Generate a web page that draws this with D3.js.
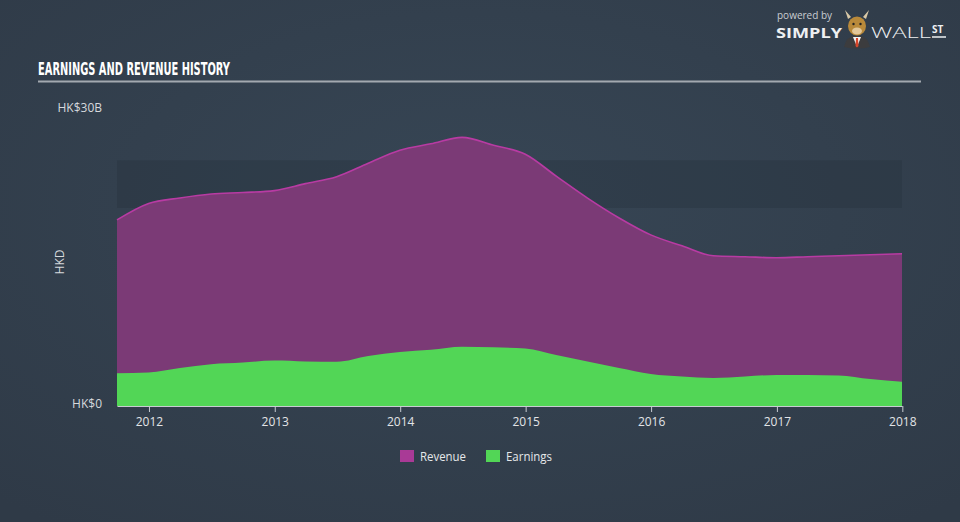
<!DOCTYPE html>
<html>
<head>
<meta charset="utf-8">
<script src="https://cdn.jsdelivr.net/npm/d3@7"></script>
<style>
  html, body { margin: 0; padding: 0; background: #333f4d; }
  svg { display: block; }
</style>
</head>
<body>
<svg id="chart" width="960" height="522"></svg>
<script>
// ---- data ----
const dates = [
  "2011-09-30","2011-12-31","2012-03-31","2012-06-30","2012-09-30","2012-12-31",
  "2013-03-31","2013-06-30","2013-09-30","2013-12-31","2014-03-31","2014-06-30",
  "2014-09-30","2014-12-31","2015-03-31","2015-06-30","2015-09-30","2015-12-31",
  "2016-03-31","2016-06-30","2016-09-30","2016-12-31","2017-03-31","2017-06-30",
  "2017-09-30","2017-12-31"
];
const revenue = [18.7, 20.35, 20.9, 21.3, 21.45, 21.65, 22.35, 23.05, 24.4, 25.7, 26.35, 27.0,
  26.2, 25.3, 23.1, 20.9, 18.9, 17.2, 16.1, 15.1, 15.0, 14.9, 15.0, 15.1, 15.2, 15.3];
const earnings = [3.28, 3.37, 3.82, 4.2, 4.37, 4.57, 4.48, 4.45, 5.03, 5.43, 5.66, 5.96,
  5.9, 5.78, 5.13, 4.47, 3.82, 3.22, 2.96, 2.81, 2.96, 3.12, 3.12, 3.07, 2.71, 2.44];
const xTickYears = [2012, 2013, 2014, 2015, 2016, 2017, 2018];
const yTickValues = [0, 30];
const yTickLabels = ["HK$0", "HK$30B"];
const bandRange = [19.9, 24.7];
const seriesNames = ["Revenue", "Earnings"];

// ---- setup ----
const svg = d3.select("#chart");
const W = 960, H = 522;
const parse = d3.timeParse("%Y-%m-%d");
const data = dates.map((d, i) => ({ date: parse(d), rev: revenue[i], earn: earnings[i] }));

const defs = svg.append("defs");
const bg = defs.append("radialGradient").attr("id", "bg").attr("cx", "50%").attr("cy", "40%").attr("r", "75%");
bg.append("stop").attr("offset", "0%").attr("stop-color", "#374655");
bg.append("stop").attr("offset", "100%").attr("stop-color", "#2f3a47");
svg.append("rect").attr("width", W).attr("height", H).attr("fill", "url(#bg)");

const x = d3.scaleTime().domain(d3.extent(data, d => d.date)).range([117, 902]);
const y = d3.scaleLinear().domain([0, 30]).range([406, 107.5]);

// band
svg.append("rect")
  .attr("x", x.range()[0]).attr("width", x.range()[1] - x.range()[0])
  .attr("y", y(bandRange[1])).attr("height", y(bandRange[0]) - y(bandRange[1]))
  .attr("fill", "#24303c").attr("opacity", 0.35);

const curve = d3.curveMonotoneX;
const revArea = d3.area().x(d => x(d.date)).y0(y(0)).y1(d => y(d.rev)).curve(curve);
const revLine = d3.line().x(d => x(d.date)).y(d => y(d.rev)).curve(curve);
const earnArea = d3.area().x(d => x(d.date)).y0(y(0)).y1(d => y(d.earn)).curve(curve);

svg.append("path").datum(data).attr("d", revArea).attr("fill", "#7b3a76");
svg.append("path").datum(data).attr("d", revLine).attr("fill", "none")
  .attr("stroke", "#b83ba3").attr("stroke-width", 1.6);
svg.append("path").datum(data).attr("d", earnArea).attr("fill", "#52d656");

// x axis
const xAxis = d3.axisBottom(x)
  .tickValues(xTickYears.map(yr => new Date(yr, 0, 1)))
  .tickFormat(d3.timeFormat("%Y"))
  .tickSizeInner(6).tickSizeOuter(0);
const gx = svg.append("g").attr("transform", `translate(0,${y(0)})`).call(xAxis);
gx.select(".domain").attr("stroke", "#c8ccd2").attr("stroke-width", 1.2);
gx.selectAll(".tick line").attr("stroke", "#c8ccd2");
gx.selectAll(".tick text").attr("fill", "#e2e4e7").attr("font-size", 12)
  .attr("font-family", "Open Sans, sans-serif").attr("dy", "0.9em");

// y labels
const yAxis = d3.axisLeft(y).tickValues(yTickValues)
  .tickFormat((d, i) => yTickLabels[i]).tickSize(0).tickPadding(0);
const gy = svg.append("g").attr("transform", `translate(102,0)`).call(yAxis);
gy.select(".domain").remove();
gy.selectAll(".tick text").attr("fill", "#d6d9dd").attr("font-size", 12)
  .attr("font-family", "Open Sans, sans-serif");
gy.selectAll(".tick").filter(d => d === 0).select("text").attr("dy", "0.1em");

svg.append("text").attr("transform", "translate(64,262) rotate(-90)")
  .attr("text-anchor", "middle").attr("fill", "#d6d9dd")
  .attr("font-size", 12).attr("font-family", "Open Sans, sans-serif").text("HKD");

// title
svg.append("text").attr("x", 38).attr("y", 75)
  .attr("fill", "#ffffff").attr("font-size", 17).attr("font-weight", "bold")
  .attr("font-family", "Liberation Sans Narrow, DejaVu Sans Condensed, sans-serif")
  .attr("textLength", 192).attr("lengthAdjust", "spacingAndGlyphs")
  .text("EARNINGS AND REVENUE HISTORY");
svg.append("line").attr("x1", 38).attr("x2", 921).attr("y1", 81.5).attr("y2", 81.5)
  .attr("stroke", "#a3a9b0").attr("stroke-width", 2);

// legend
const legendColors = ["#a93a96", "#52d656"];
const legendX = [400, 486];
const lg = svg.append("g");
seriesNames.forEach((name, i) => {
  lg.append("rect").attr("x", legendX[i]).attr("y", 450).attr("width", 14).attr("height", 12)
    .attr("fill", legendColors[i]);
  lg.append("text").attr("x", legendX[i] + 20).attr("y", 460.5)
    .attr("fill", "#e6e8ea").attr("font-size", 12)
    .attr("font-family", "Open Sans, sans-serif")
    .attr("textLength", 46).attr("lengthAdjust", "spacingAndGlyphs").text(name);
});

// logo
const logo = svg.append("g");
logo.append("text").attr("x", 777).attr("y", 19).attr("fill", "#c9cdd2")
  .attr("font-size", 10).attr("font-family", "Open Sans, sans-serif").text("powered by");
logo.append("text").attr("x", 776).attr("y", 38).attr("fill", "#eef0f2")
  .attr("font-size", 14.5).attr("font-weight", "bold").attr("font-family", "Open Sans, sans-serif")
  .attr("textLength", 66).attr("lengthAdjust", "spacingAndGlyphs").text("SIMPLY");
logo.append("text").attr("x", 871).attr("y", 38).attr("fill", "#eef0f2")
  .attr("font-size", 14.5).attr("font-weight", "300").attr("font-family", "Open Sans, sans-serif")
  .attr("textLength", 60).attr("lengthAdjust", "spacingAndGlyphs").text("WALL");
logo.append("text").attr("x", 932).attr("y", 33).attr("fill", "#eef0f2")
  .attr("font-size", 10).attr("font-weight", "bold").attr("font-family", "Open Sans, sans-serif").text("ST");
logo.append("line").attr("x1", 932).attr("x2", 946).attr("y1", 37).attr("y2", 37)
  .attr("stroke", "#eef0f2").attr("stroke-width", 1.5);
// bull icon
logo.append("path").attr("d", "M844,47 Q846,36 857,35 Q868,36 870,47 Q857,50 844,47 Z").attr("fill", "#3c3c3e");
logo.append("path").attr("d", "M853,37 L857,47 L861,37 Z").attr("fill", "#f2f2f2");
logo.append("path").attr("d", "M856,38 L858,38 L858.5,46 L857,47.5 L855.5,46 Z").attr("fill", "#d8452a");
logo.append("path").attr("d", "M848,19 L845,10 L851,17 Z M866,19 L869,10 L863,17 Z").attr("fill", "#d9c9a8");
logo.append("ellipse").attr("cx", 857).attr("cy", 26).attr("rx", 9).attr("ry", 9.5).attr("fill", "#b8893a");
logo.append("ellipse").attr("cx", 857).attr("cy", 31).attr("rx", 5).attr("ry", 3.5).attr("fill", "#e2c79a");
logo.append("circle").attr("cx", 853.5).attr("cy", 24).attr("r", 1.2).attr("fill", "#222");
logo.append("circle").attr("cx", 860.5).attr("cy", 24).attr("r", 1.2).attr("fill", "#222");
</script>
</body>
</html>
